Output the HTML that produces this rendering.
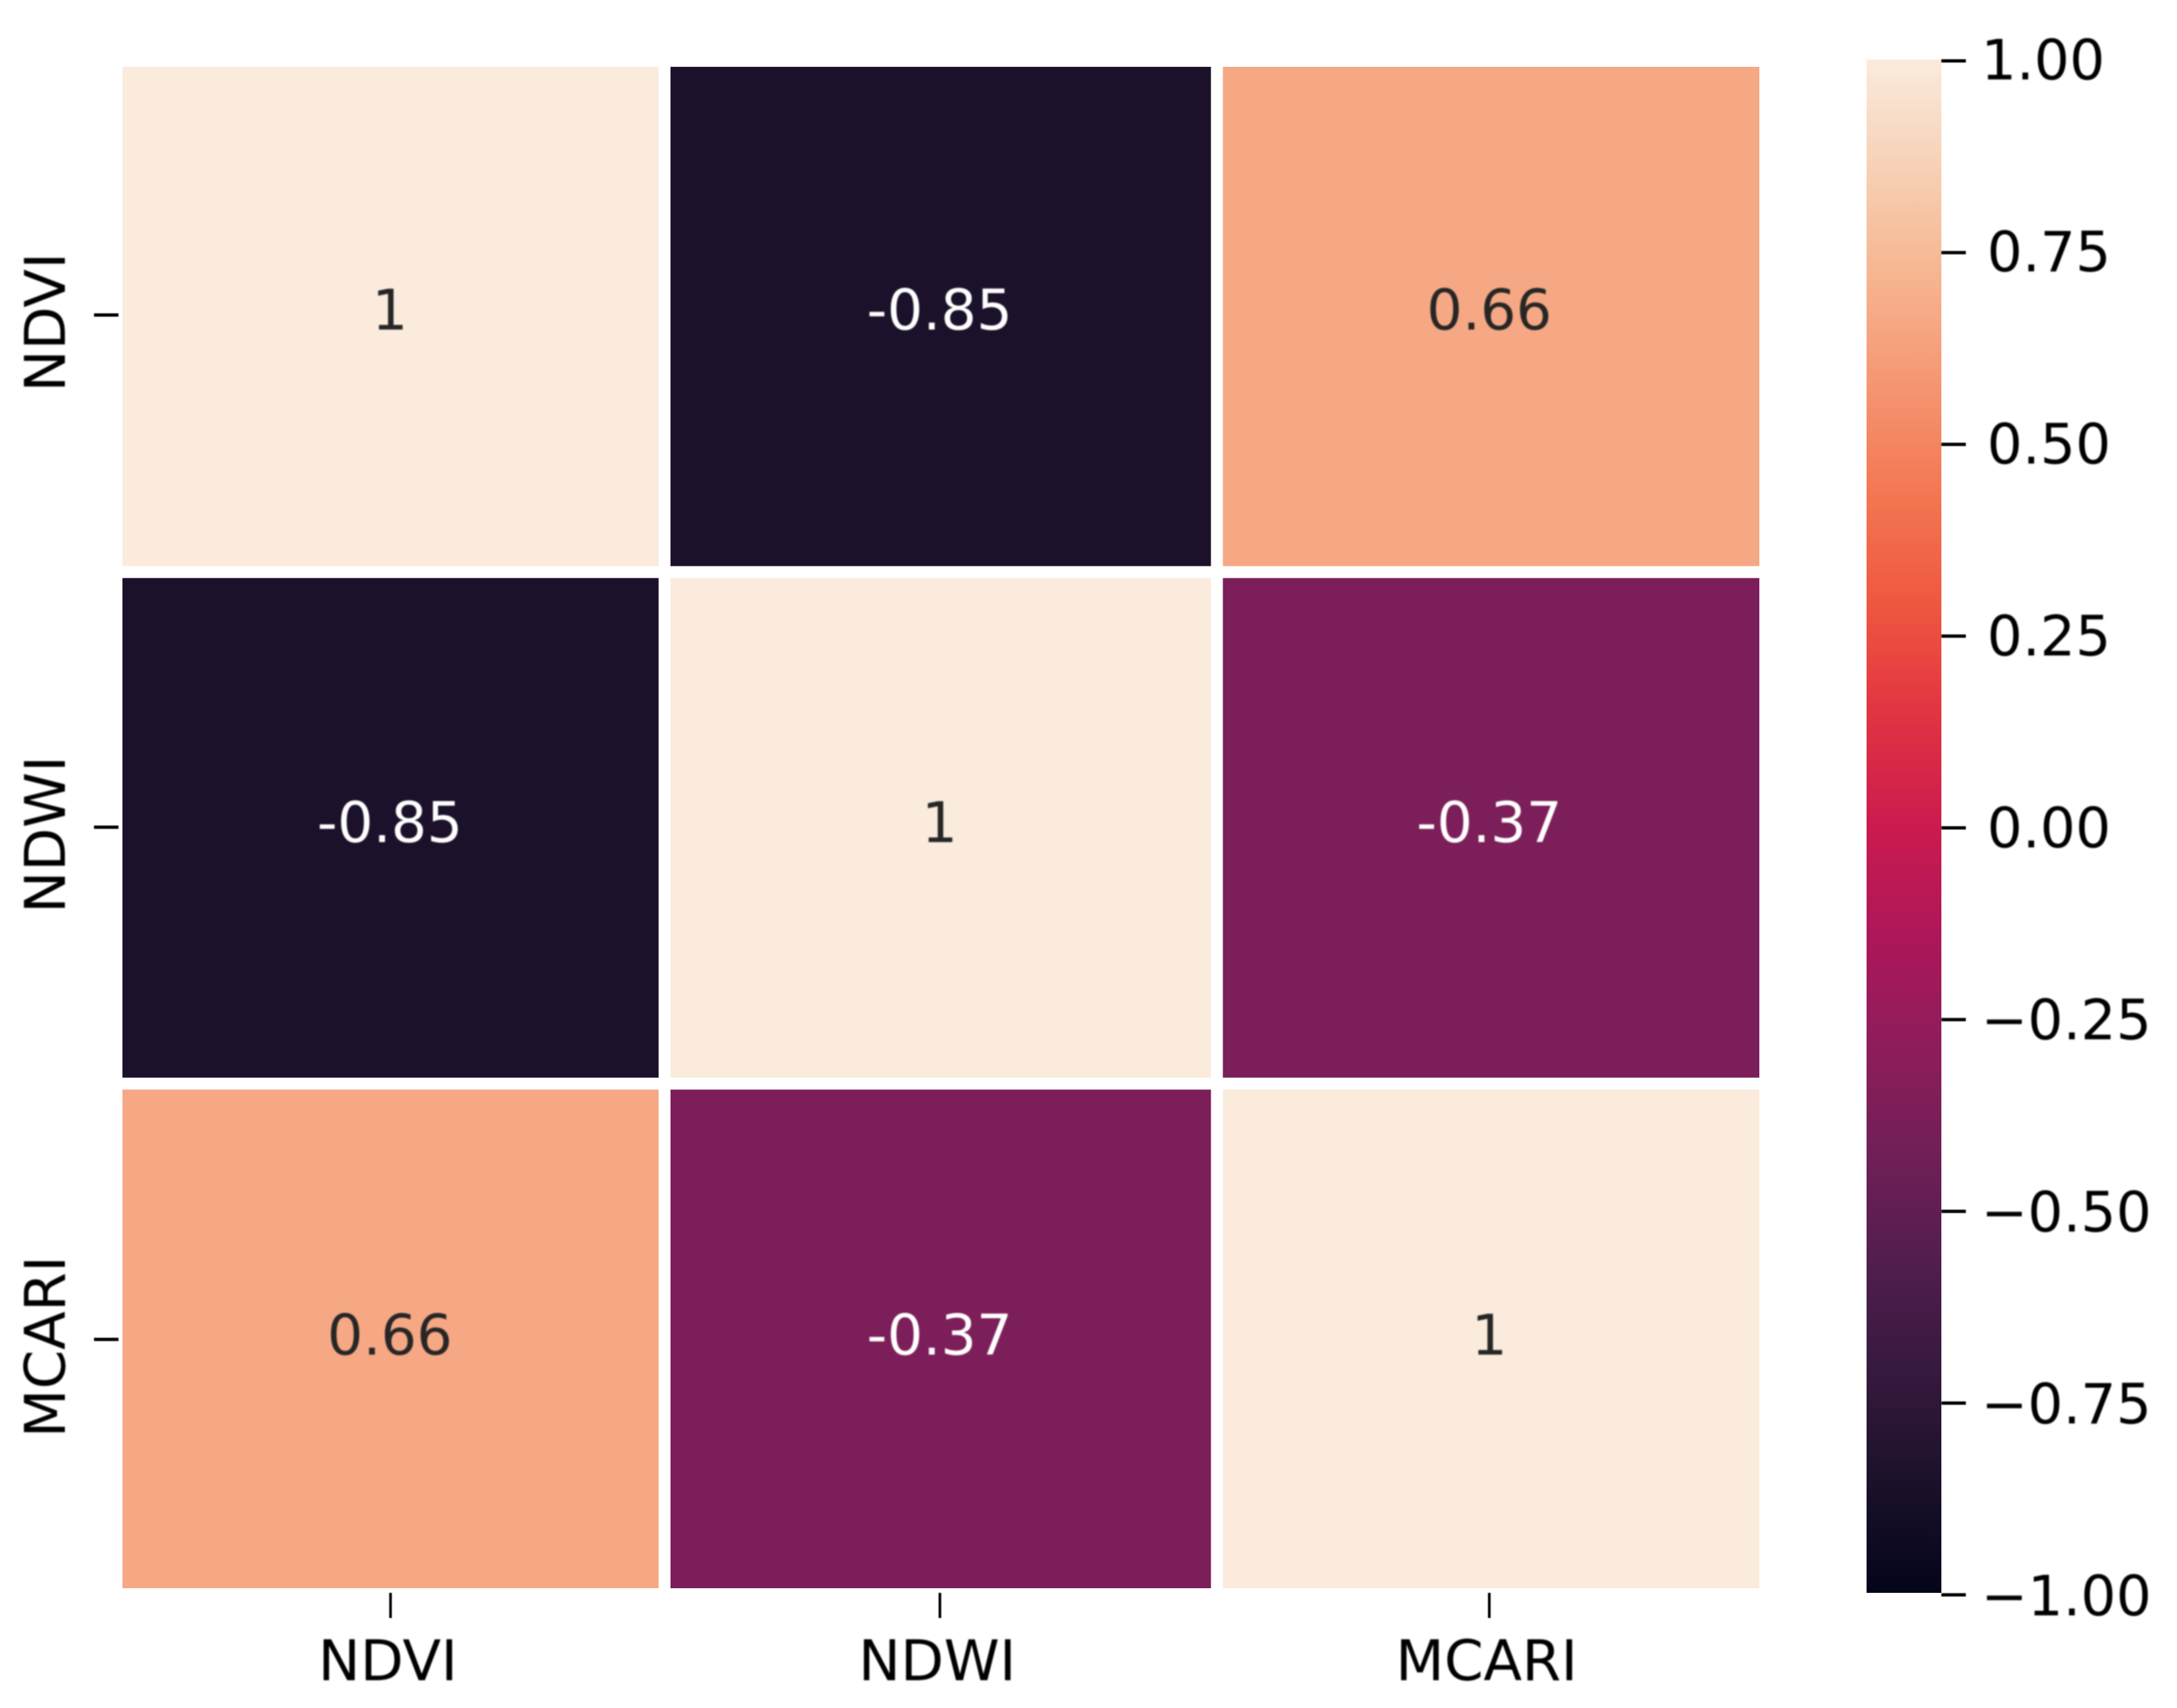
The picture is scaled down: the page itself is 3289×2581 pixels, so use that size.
<!DOCTYPE html>
<html lang="en">
<head>
<meta charset="utf-8">
<title>Vegetation index correlation heatmap</title>
<style>
  html, body { margin: 0; padding: 0; background: #fff; }
  svg { display: block; }
  text { font-family: "DejaVu Sans", "Liberation Sans", sans-serif; font-size: 85px; }
</style>
</head>
<body>
<svg id="chart" xmlns="http://www.w3.org/2000/svg" width="3289" height="2581" viewBox="0 0 3289 2581">
  <defs>
    <filter id="soft" x="-10%" y="-10%" width="120%" height="120%"><feGaussianBlur stdDeviation="1"/></filter>
    <filter id="soft-tick" filterUnits="userSpaceOnUse" x="0" y="0" width="3289" height="2581"><feGaussianBlur stdDeviation="0.8"/></filter>
    <clipPath id="plot-clip"><rect x="185" y="101" width="2473" height="2299"/></clipPath>
    <linearGradient id="rocket-gradient" x1="0" y1="1" x2="0" y2="0"></linearGradient>
  </defs>
  <rect x="0" y="0" width="3289" height="2581" fill="#ffffff"/>
  <g id="cells" clip-path="url(#plot-clip)"></g>
  <g id="annotations" filter="url(#soft)"></g>
  <g id="x-axis"></g>
  <g id="y-axis"></g>
  <rect x="2820" y="90" width="113" height="2317" fill="url(#rocket-gradient)"/>
  <g id="colorbar-axis"></g>
</svg>
<script>
const columnLabels = ['NDVI', 'NDWI', 'MCARI'];
const rowLabels = ['NDVI', 'NDWI', 'MCARI'];
const ndviRow = [1, -0.85, 0.66];
const ndwiRow = [-0.85, 1, -0.37];
const mcariRow = [0.66, -0.37, 1];
const colorbarTicks = [1, 0.75, 0.5, 0.25, 0, -0.25, -0.5, -0.75, -1];

const matrix = [ndviRow, ndwiRow, mcariRow];
const rocketRamp = ['#03051a', '#1b1129', '#35193e', '#511e4d', '#701f57', '#8e1d5b', '#ad1759', '#cb1b4f',
                    '#e13342', '#ef563f', '#f37651', '#f59571', '#f6b48f', '#f7d0b5', '#faebdd'];
const NS = 'http://www.w3.org/2000/svg';
const GAP = 18;

function xBand(i) { return 169.5 + i * 834.5; }
function yBand(i) { return 91.5 + i * 773; }
function xTick(i) { return 590 + 830 * i; }
function yTick(i) { return 476 + 774 * i; }
function xAnnot(i) { return 589 + 830.5 * i; }
function yAnnot(i) { return 498 + 774.5 * i; }
function yColorbar(v) { return 92 + (1 - v) * 1159; }
function yColorbarLabel(v) { return 120 + (1 - v) * 1160.5; }
function xColorbarLabel(v) { return (v >= 0 && v < 1) ? 3002 : 2993; }

function hexToRgb(h) {
  return [parseInt(h.slice(1, 3), 16), parseInt(h.slice(3, 5), 16), parseInt(h.slice(5, 7), 16)];
}
function rocket(v) {
  const t = Math.max(0, Math.min(1, (v + 1) / 2)) * (rocketRamp.length - 1);
  const k = Math.min(Math.floor(t), rocketRamp.length - 2);
  const a = hexToRgb(rocketRamp[k]);
  const b = hexToRgb(rocketRamp[k + 1]);
  const f = t - k;
  return 'rgb(' + a.map((c, n) => Math.round(c + (b[n] - c) * f)).join(',') + ')';
}
function svgEl(tag) { return document.createElementNS(NS, tag); }
function setAll(el, attrs) { for (const k in attrs) el.setAttribute(k, attrs[k]); return el; }

const gradient = document.getElementById('rocket-gradient');
rocketRamp.forEach((c, i) => {
  const stop = svgEl('stop');
  setAll(stop, { offset: i / (rocketRamp.length - 1), 'stop-color': c });
  gradient.appendChild(stop);
});

const cellsG = document.getElementById('cells');
const annotG = document.getElementById('annotations');
matrix.forEach((rowValues, r) => {
  rowValues.forEach((value, c) => {
    const rect = svgEl('rect');
    
    
    setAll(rect, {
      x: xBand(c) + GAP / 2, y: yBand(r) + GAP / 2,
      width: xBand(c + 1) - xBand(c) - GAP, height: yBand(r + 1) - yBand(r) - GAP,
      fill: rocket(value)
    });
    cellsG.appendChild(rect);

    const label = svgEl('text');
    
    
    setAll(label, {
      x: xAnnot(c), y: yAnnot(r), 'text-anchor': 'middle',
      fill: value > 0 ? '#262626' : '#ffffff'
    });
    label.textContent = String(value);
    annotG.appendChild(label);
  });
});

const xAxis = document.getElementById('x-axis');
columnLabels.forEach((name, i) => {
  const tick = svgEl('line');
  
  
  setAll(tick, { x1: xTick(i), x2: xTick(i), y1: 2407, y2: 2445, stroke: '#000', 'stroke-width': 4, filter: 'url(#soft-tick)' });
  xAxis.appendChild(tick);

  const label = svgEl('text');
  
  
  setAll(label, { x: xTick(i) - 4, y: 2539, 'text-anchor': 'middle', fill: '#000', filter: 'url(#soft)' });
  label.textContent = name;
  xAxis.appendChild(label);
});

const yAxis = document.getElementById('y-axis');
rowLabels.forEach((name, i) => {
  const tick = svgEl('line');
  
  
  setAll(tick, { x1: 142, x2: 179, y1: yTick(i), y2: yTick(i), stroke: '#000', 'stroke-width': 5, filter: 'url(#soft-tick)' });
  yAxis.appendChild(tick);

  const label = svgEl('text');
  
  
  setAll(label, {
    transform: 'translate(98 ' + (yTick(i) + 11) + ') rotate(-90)',
    'text-anchor': 'middle', fill: '#000', filter: 'url(#soft)'
  });
  label.textContent = name;
  yAxis.appendChild(label);
});

const cbAxis = document.getElementById('colorbar-axis');
colorbarTicks.forEach(v => {
  const text = (v < 0 ? '\u2212' : '') + Math.abs(v).toFixed(2);
  const y = yColorbar(v);
  const tick = svgEl('line');
  
  
  setAll(tick, { x1: 2933, x2: 2970, y1: y, y2: y, stroke: '#000', 'stroke-width': 5, filter: 'url(#soft-tick)' });
  cbAxis.appendChild(tick);

  const label = svgEl('text');
  
  
  setAll(label, { x: xColorbarLabel(v), y: yColorbarLabel(v), fill: '#000', filter: 'url(#soft)', style: 'font-size:84px' });
  label.textContent = text;
  cbAxis.appendChild(label);
});
</script>
</body>
</html>
